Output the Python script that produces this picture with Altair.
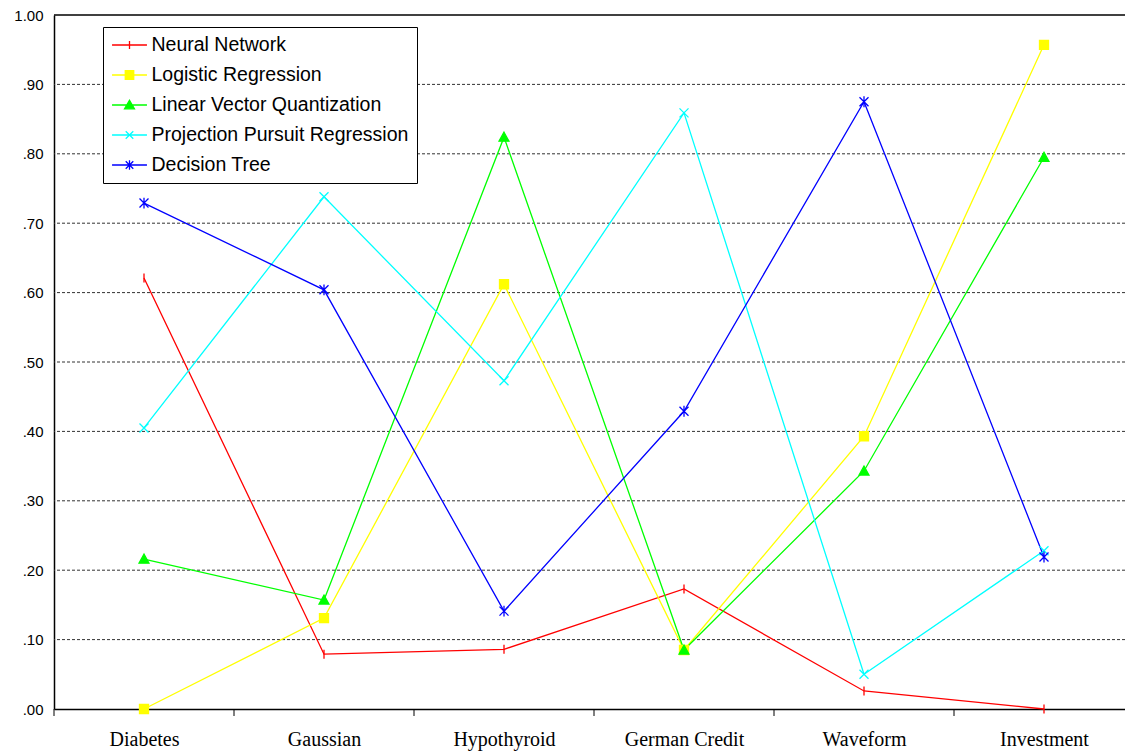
import altair as alt
import pandas as pd

categories = ["Diabetes", "Gaussian", "Hypothyroid", "German Credit", "Waveform", "Investment"]
series = ["Neural Network", "Logistic Regression", "Linear Vector Quantization",
          "Projection Pursuit Regression", "Decision Tree"]
neural_network = [0.621, 0.079, 0.086, 0.173, 0.026, 0.0]
logistic_regression = [0.0, 0.131, 0.612, 0.085, 0.393, 0.957]
linear_vector_quant = [0.216, 0.157, 0.824, 0.085, 0.343, 0.795]
projection_pursuit = [0.405, 0.738, 0.473, 0.859, 0.050, 0.228]
decision_tree = [0.729, 0.604, 0.141, 0.429, 0.875, 0.219]
colors = ["#FF0000", "#FFFF00", "#00FF00", "#00FFFF", "#0000FF"]
y_ticks = [0.0, 0.1, 0.2, 0.3, 0.4, 0.5, 0.6, 0.7, 0.8, 0.9, 1.0]
grid_values = [0.1, 0.2, 0.3, 0.4, 0.5, 0.6, 0.7, 0.8, 0.9]
boundaries = [-0.5, 0.5, 1.5, 2.5, 3.5, 4.5]

marker_paths = [
    "M0,-1V1",
    "M-1,-1H1V1H-1Z",
    "M0,-1.1L1.1,0.9H-1.1Z",
    "M-1,-1L1,1M1,-1L-1,1",
    "M-1,-1L1,1M1,-1L-1,1M0,-1.2V1.2",
]
legend_paths = [
    "M-1.94,0H1.94M0,-0.45V0.45",
    "M-1.94,0H1.94M-0.47,-0.47H0.47V0.47H-0.47Z",
    "M-1.94,0H1.94M0,-0.52L0.55,0.42H-0.55Z",
    "M-1.94,0H1.94M-0.42,-0.42L0.42,0.42M0.42,-0.42L-0.42,0.42",
    "M-1.94,0H1.94M-0.42,-0.42L0.42,0.42M0.42,-0.42L-0.42,0.42M0,-0.52V0.52",
]

rows = []
all_vals = [neural_network, logistic_regression, linear_vector_quant, projection_pursuit, decision_tree]
for si, (name, vals) in enumerate(zip(series, all_vals)):
    for ci, v in enumerate(vals):
        rows.append({"series": name, "si": si, "idx": ci, "value": v})
df = pd.DataFrame(rows)

xscale = alt.Scale(domain=[-0.5, 5.45], nice=False, zero=False)
yscale = alt.Scale(domain=[0, 1], nice=False, zero=False)
label_expr = "[" + ",".join("'%s'" % c for c in categories) + "][datum.value]"

xaxis = alt.Axis(values=list(range(len(categories))), labelExpr=label_expr, ticks=False,
                 grid=False, domain=True, domainColor="black", domainWidth=1.5,
                 labelFont="Liberation Serif", labelFontSize=20, labelColor="black",
                 labelPadding=20, title=None, labelAngle=0)
yaxis = alt.Axis(values=y_ticks, ticks=False, grid=False, domain=True, domainColor="black",
                 domainWidth=1.5, labelFont="Liberation Sans", labelFontSize=15,
                 labelColor="black", labelPadding=11, title=None,
                 labelExpr="datum.value == 1 ? '1.00' : replace(format(datum.value, '.2f'), '0.', '.')")

def X(f):
    return alt.X(f, scale=xscale, axis=xaxis)

def Y(f):
    return alt.Y(f, scale=yscale, axis=yaxis)

grid = alt.Chart(pd.DataFrame({"value": grid_values})).mark_rule(
    color="#333333", strokeDash=[3, 2], strokeWidth=1).encode(y=Y("value:Q"))

top = alt.Chart(pd.DataFrame({"value": [1.0]})).mark_rule(
    color="black", strokeWidth=1.5).encode(y=Y("value:Q"))

ticks = alt.Chart(pd.DataFrame({"idx": boundaries})).mark_rule(
    color="black", strokeWidth=1).encode(x=X("idx:Q"), y=alt.value(694), y2=alt.value(701))

lines = alt.Chart(df).mark_line(strokeWidth=1.3).encode(
    x=X("idx:Q"), y=Y("value:Q"),
    color=alt.Color("series:N", scale=alt.Scale(domain=series, range=colors), legend=None),
    detail="series:N",
)

points = alt.Chart(df).mark_point(filled=True, size=81, strokeWidth=1.3, opacity=1).encode(
    x=X("idx:Q"), y=Y("value:Q"),
    fill=alt.Fill("series:N", scale=alt.Scale(domain=series, range=colors), legend=None),
    stroke=alt.Stroke("series:N", scale=alt.Scale(domain=series, range=colors), legend=None),
    shape=alt.Shape("series:N", scale=alt.Scale(domain=series, range=marker_paths), legend=None),
    order=alt.Order("si:Q"),
)

leg = alt.Legend(title=None, orient="none", legendX=49, legendY=12, padding=8,
                 strokeColor="black", fillColor="white", labelFont="Liberation Sans",
                 labelFontSize=19.5, labelColor="black", labelOffset=12, symbolSize=324,
                 symbolOffset=8.5, symbolStrokeWidth=1.3, rowPadding=10, labelLimit=500)

legend_layer = alt.Chart(df).transform_filter("false").mark_point(
    filled=True, size=324, strokeWidth=1.3, opacity=1).encode(
    x=X("idx:Q"), y=Y("value:Q"),
    fill=alt.Fill("series:N", scale=alt.Scale(domain=series, range=colors), legend=leg),
    stroke=alt.Stroke("series:N", scale=alt.Scale(domain=series, range=colors), legend=leg),
    shape=alt.Shape("series:N", scale=alt.Scale(domain=series, range=legend_paths), legend=leg),
)

chart = alt.layer(grid, top, ticks, lines, points, legend_layer).resolve_scale(
    color="independent", fill="independent", stroke="independent", shape="independent"
).properties(
    width=1071, height=694,
    padding={"left": 54, "top": 15, "right": 0, "bottom": 44},
    autosize=alt.AutoSizeParams(type="none"),
    background="white",
).configure_view(stroke=None)

chart.save("out.html", embed_options={"renderer": "svg", "actions": False})
